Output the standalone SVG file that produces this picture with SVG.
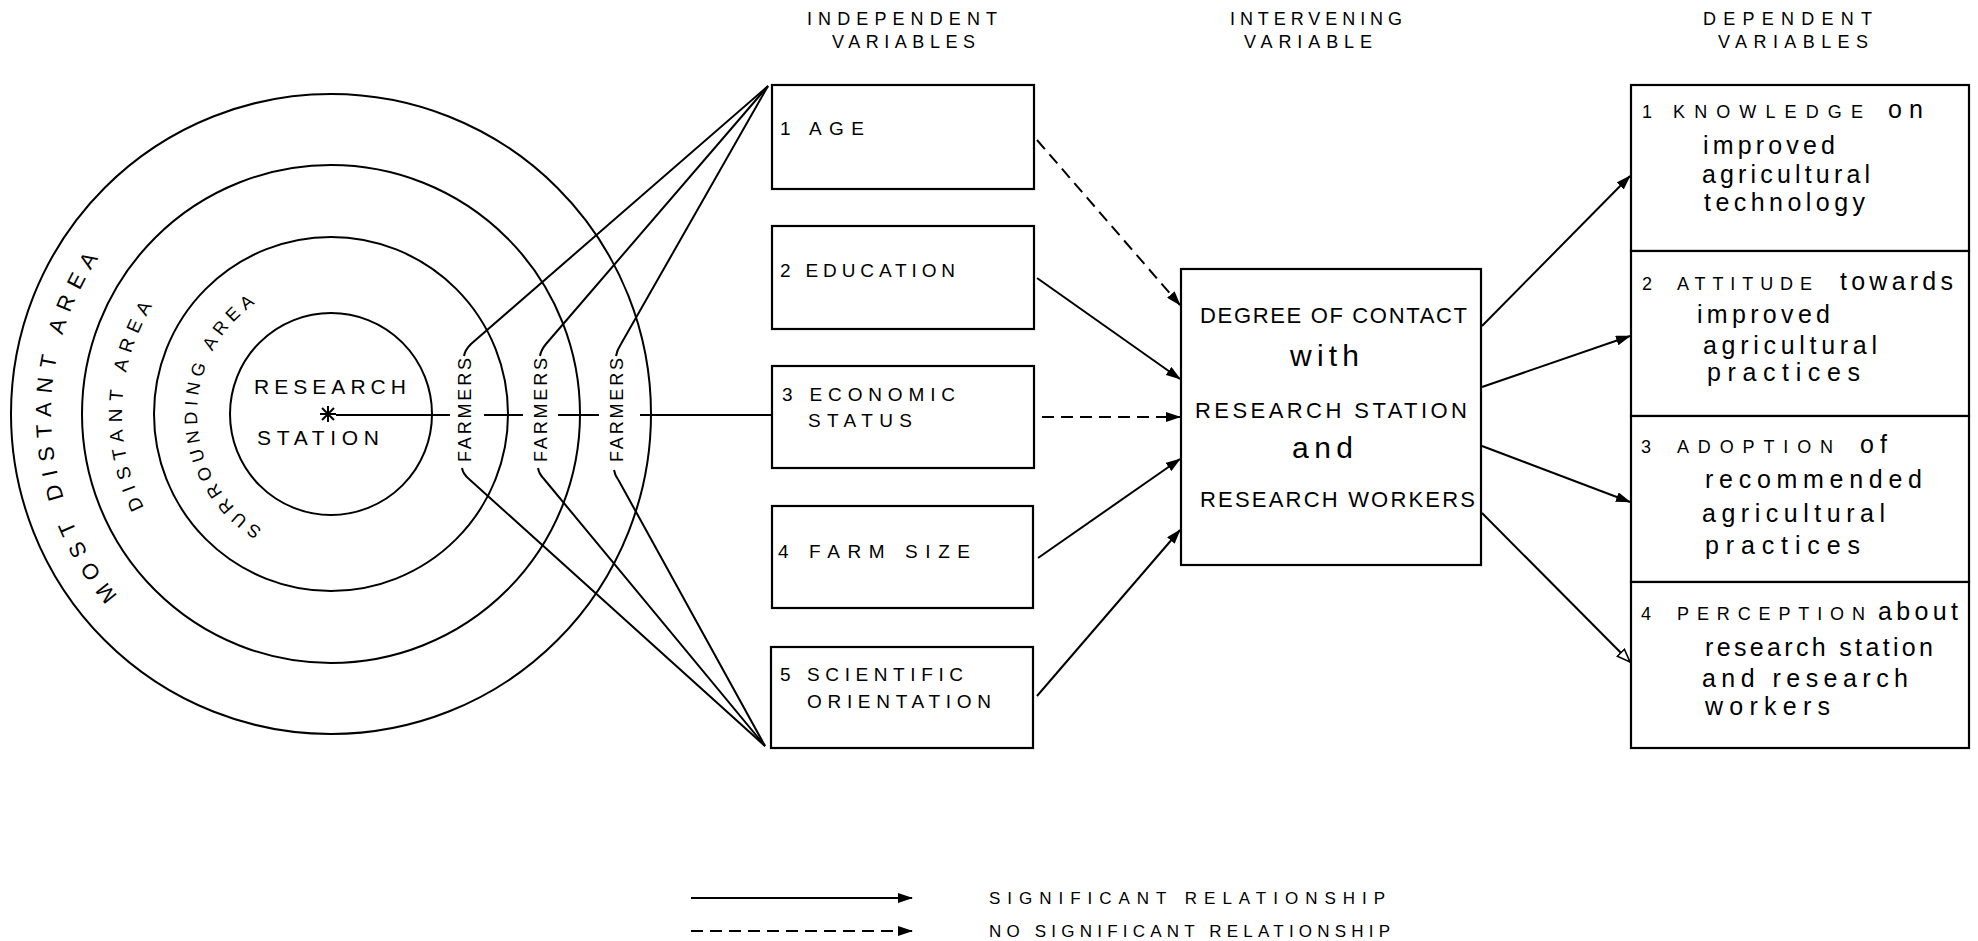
<svg xmlns="http://www.w3.org/2000/svg" width="1978" height="941" viewBox="0 0 1978 941">
<style>
  .ln { stroke:#000; stroke-width:2; fill:none; }
  .dash { stroke-dasharray:12 7; }
  .box { fill:#fff; stroke:#000; stroke-width:2.2; }
  .ring { fill:none; stroke:#000; stroke-width:2; }
  text { font-family:"Liberation Sans", Arial, sans-serif; fill:#000; }
  .hd { font-size:18px; }
  .bx { font-size:19px; }
  .fm { font-size:18px; }
  .iv { font-size:22px; }
  .ivl { font-size:30px; }
  .dc { font-size:18px; }
  .dl { font-size:25px; }
  .lg { font-size:17px; }
</style>
<defs>
  <marker id="ah" markerWidth="15" markerHeight="10" refX="14" refY="5" orient="auto" markerUnits="userSpaceOnUse">
    <path d="M0,0 L15,5 L0,10 z" fill="#000"/>
  </marker>
  <marker id="ahOpen" markerWidth="15" markerHeight="12" refX="14" refY="6" orient="auto" markerUnits="userSpaceOnUse">
    <path d="M1,1 L14,6 L1,11 z" fill="#fff" stroke="#000" stroke-width="1.6"/>
  </marker>
  <path id="p1" d="M 331 548 A 134 134 0 0 1 331 280"/>
  <path id="p2" d="M 331 623 A 209 209 0 0 1 331 205"/>
  <path id="p3" d="M 331 694 A 280 280 0 0 1 331 134"/>
</defs>

<!-- headers -->
<g id="headers">
  <text class="hd" x="807" y="25" textLength="190" lengthAdjust="spacing">INDEPENDENT</text>
  <text class="hd" x="832" y="48" textLength="143" lengthAdjust="spacing">VARIABLES</text>
  <text class="hd" x="1230" y="25" textLength="172" lengthAdjust="spacing">INTERVENING</text>
  <text class="hd" x="1244" y="48" textLength="128" lengthAdjust="spacing">VARIABLE</text>
  <text class="hd" x="1703" y="25" textLength="169" lengthAdjust="spacing">DEPENDENT</text>
  <text class="hd" x="1718" y="48" textLength="150" lengthAdjust="spacing">VARIABLES</text>
</g>

<!-- area circles -->
<g id="areas">
  <circle class="ring" cx="331" cy="414" r="101"/>
  <circle class="ring" cx="331" cy="414" r="177"/>
  <circle class="ring" cx="331" cy="414" r="249"/>
  <circle class="ring" cx="331" cy="414" r="320"/>
  <text font-size="18"><textPath href="#p1" startOffset="72" textLength="268" lengthAdjust="spacing">SURROUNDING AREA</textPath></text>
  <text font-size="19"><textPath href="#p2" startOffset="231" textLength="211" lengthAdjust="spacing">DISTANT AREA</textPath></text>
  <text font-size="22"><textPath href="#p3" startOffset="242" textLength="363" lengthAdjust="spacing">MOST DISTANT AREA</textPath></text>
</g>

<g id="station">
  <text x="254" y="394" font-size="21" textLength="152" lengthAdjust="spacing">RESEARCH</text>
  <text x="257" y="445" font-size="21" textLength="122" lengthAdjust="spacing">STATION</text>
  <g class="ln" stroke-width="2.2">
    <line x1="320" y1="414" x2="336" y2="414"/>
    <line x1="328" y1="406" x2="328" y2="422"/>
    <line x1="322" y1="408" x2="334" y2="420"/>
    <line x1="334" y1="408" x2="322" y2="420"/>
  </g>
</g>

<g id="farmers">
  <text class="fm" transform="translate(471,410) rotate(-90)" text-anchor="middle" textLength="104" lengthAdjust="spacing">FARMERS</text>
  <text class="fm" transform="translate(547,410) rotate(-90)" text-anchor="middle" textLength="104" lengthAdjust="spacing">FARMERS</text>
  <text class="fm" transform="translate(623,410) rotate(-90)" text-anchor="middle" textLength="104" lengthAdjust="spacing">FARMERS</text>
</g>

<!-- independent variable boxes -->
<g id="age">
  <rect class="box" x="772" y="85" width="262" height="104"/>
  <text class="bx" y="135"><tspan x="780">1</tspan><tspan x="809" textLength="55" lengthAdjust="spacing">AGE</tspan></text>
</g>
<g id="education">
  <rect class="box" x="772" y="226" width="262" height="103"/>
  <text class="bx" x="780" y="277" textLength="175" lengthAdjust="spacing">2 EDUCATION</text>
</g>
<g id="economic">
  <rect class="box" x="772" y="366" width="262" height="102"/>
  <text class="bx" x="782" y="401" textLength="173" lengthAdjust="spacing">3 ECONOMIC</text>
  <text class="bx" x="808" y="427" textLength="104" lengthAdjust="spacing">STATUS</text>
</g>
<g id="farmsize">
  <rect class="box" x="772" y="506" width="261" height="102"/>
  <text class="bx" x="778" y="558" textLength="192" lengthAdjust="spacing">4 FARM SIZE</text>
</g>
<g id="scientific">
  <rect class="box" x="771" y="647" width="262" height="101"/>
  <text class="bx" x="780" y="681" textLength="183" lengthAdjust="spacing">5 SCIENTIFIC</text>
  <text class="bx" x="807" y="708" textLength="184" lengthAdjust="spacing">ORIENTATION</text>
</g>

<!-- intervening variable -->
<g id="contact">
  <rect class="box" x="1181" y="269" width="300" height="296"/>
  <text class="iv" x="1200" y="323" textLength="267" lengthAdjust="spacing">DEGREE OF CONTACT</text>
  <text class="ivl" x="1290" y="366" textLength="69" lengthAdjust="spacing">with</text>
  <text class="iv" x="1195" y="418" textLength="272" lengthAdjust="spacing">RESEARCH STATION</text>
  <text class="ivl" x="1292" y="458" textLength="61" lengthAdjust="spacing">and</text>
  <text class="iv" x="1200" y="507" textLength="275" lengthAdjust="spacing">RESEARCH WORKERS</text>
</g>

<!-- dependent variables -->
<g id="knowledge">
  <rect class="box" x="1631" y="85" width="338" height="166"/>
  <text y="118"><tspan class="dc" x="1642">1</tspan><tspan class="dc" x="1673" textLength="190" lengthAdjust="spacing">KNOWLEDGE</tspan><tspan class="dl" x="1888" textLength="35" lengthAdjust="spacing">on</tspan></text>
  <text class="dl" x="1703" y="154" textLength="132" lengthAdjust="spacing">improved</text>
  <text class="dl" x="1702" y="183" textLength="168" lengthAdjust="spacing">agricultural</text>
  <text class="dl" x="1704" y="211" textLength="161" lengthAdjust="spacing">technology</text>
</g>
<g id="attitude">
  <rect class="box" x="1631" y="251" width="338" height="165"/>
  <text y="290"><tspan class="dc" x="1642">2</tspan><tspan class="dc" x="1677" textLength="135" lengthAdjust="spacing">ATTITUDE</tspan><tspan class="dl" x="1840" textLength="113" lengthAdjust="spacing">towards</tspan></text>
  <text class="dl" x="1697" y="323" textLength="133" lengthAdjust="spacing">improved</text>
  <text class="dl" x="1703" y="354" textLength="174" lengthAdjust="spacing">agricultural</text>
  <text class="dl" x="1707" y="381" textLength="153" lengthAdjust="spacing">practices</text>
</g>
<g id="adoption">
  <rect class="box" x="1631" y="416" width="338" height="166"/>
  <text y="453"><tspan class="dc" x="1641">3</tspan><tspan class="dc" x="1677" textLength="156" lengthAdjust="spacing">ADOPTION</tspan><tspan class="dl" x="1860" textLength="27" lengthAdjust="spacing">of</tspan></text>
  <text class="dl" x="1705" y="488" textLength="217" lengthAdjust="spacing">recommended</text>
  <text class="dl" x="1702" y="522" textLength="183" lengthAdjust="spacing">agricultural</text>
  <text class="dl" x="1705" y="554" textLength="155" lengthAdjust="spacing">practices</text>
</g>
<g id="perception">
  <rect class="box" x="1631" y="582" width="338" height="166"/>
  <text y="620"><tspan class="dc" x="1641">4</tspan><tspan class="dc" x="1677" textLength="188" lengthAdjust="spacing">PERCEPTION</tspan><tspan class="dl" x="1878" textLength="80" lengthAdjust="spacing">about</tspan></text>
  <text class="dl" x="1705" y="656" textLength="228" lengthAdjust="spacing">research station</text>
  <text class="dl" x="1702" y="687" textLength="206" lengthAdjust="spacing">and research</text>
  <text class="dl" x="1705" y="715" textLength="125" lengthAdjust="spacing">workers</text>
</g>

<!-- connectors -->
<g id="connectors">
  <!-- horizontal line from station to economic status -->
  <line class="ln" x1="336" y1="415" x2="450" y2="415"/>
  <line class="ln" x1="484" y1="415" x2="523" y2="415"/>
  <line class="ln" x1="558" y1="415" x2="599" y2="415"/>
  <line class="ln" x1="640" y1="415" x2="772" y2="415"/>
  <!-- farmers to age (top) -->
  <path class="ln" d="M 464 356 Q 465 350 471 344 L 768 86"/>
  <path class="ln" d="M 540 356 Q 541 350 546 344 L 768 86"/>
  <path class="ln" d="M 616 356 Q 617 350 621 344 L 768 86"/>
  <!-- farmers to scientific orientation (bottom) -->
  <path class="ln" d="M 462 468 Q 463 474 469 479 L 765 746"/>
  <path class="ln" d="M 538 468 Q 539 474 544 479 L 765 746"/>
  <path class="ln" d="M 614 470 Q 615 476 619 481 L 765 746"/>
  <!-- independent to intervening -->
  <line class="ln dash" x1="1037" y1="140" x2="1180" y2="305" marker-end="url(#ah)"/>
  <line class="ln" x1="1037" y1="278" x2="1180" y2="379" marker-end="url(#ah)"/>
  <line class="ln dash" x1="1042" y1="417" x2="1180" y2="417" marker-end="url(#ah)"/>
  <line class="ln" x1="1038" y1="558" x2="1180" y2="459" marker-end="url(#ah)"/>
  <line class="ln" x1="1037" y1="696" x2="1180" y2="530" marker-end="url(#ah)"/>
  <!-- intervening to dependent -->
  <line class="ln" x1="1482" y1="326" x2="1630" y2="176" marker-end="url(#ah)"/>
  <line class="ln" x1="1482" y1="387" x2="1630" y2="336" marker-end="url(#ah)"/>
  <line class="ln" x1="1482" y1="446" x2="1630" y2="502" marker-end="url(#ah)"/>
  <line class="ln" x1="1482" y1="513" x2="1630" y2="662" marker-end="url(#ahOpen)"/>
</g>

<!-- legend -->
<g id="legend">
  <line class="ln" x1="691" y1="898" x2="912" y2="898" marker-end="url(#ah)"/>
  <line class="ln dash" x1="691" y1="931" x2="912" y2="931" marker-end="url(#ah)"/>
  <text class="lg" x="989" y="904" textLength="396" lengthAdjust="spacing">SIGNIFICANT RELATIONSHIP</text>
  <text class="lg" x="989" y="937" textLength="401" lengthAdjust="spacing">NO SIGNIFICANT RELATIONSHIP</text>
</g>
</svg>
